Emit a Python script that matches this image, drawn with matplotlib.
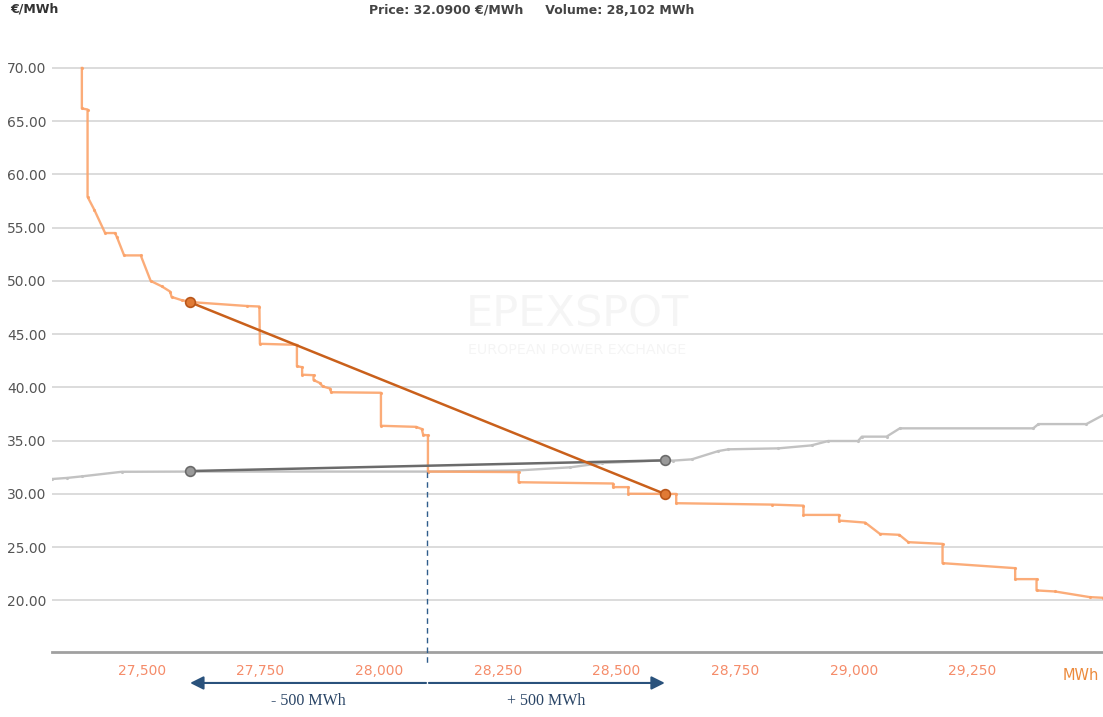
import matplotlib.pyplot as plt
import numpy as np

plt.rcParams['font.family'] = ['DejaVu Sans']

# demand curve (orange), MWh / EUR per MWh
dem_vol = [27374, 27374, 27386, 27386, 27400, 27423, 27444, 27448, 27463, 27498,
           27519, 27542, 27560, 27563, 27584, 27609, 27721, 27748, 27749, 27827,
           27827, 27838, 27838, 27862, 27862, 27876, 27881, 27897, 27899, 28004,
           28004, 28078, 28090, 28093, 28103, 28103, 28294, 28294, 28493, 28493,
           28525, 28525, 28626, 28626, 28827, 28894, 28894, 28969, 28969, 29024,
           29055, 29096, 29115, 29187, 29187, 29340, 29340, 29385, 29385, 29424,
           29497, 29525]
dem_price = [70.0, 66.2, 66.1, 57.9, 56.7, 54.5, 54.5, 54.1, 52.4, 52.4,
             50.0, 49.5, 49.0, 48.5, 48.2, 48.0, 47.65, 47.6, 44.1, 44.0,
             42.0, 41.9, 41.2, 41.15, 40.7, 40.4, 40.1, 39.9, 39.55, 39.5,
             36.4, 36.3, 36.1, 35.55, 35.5, 32.1, 32.05, 31.1, 30.98, 30.64,
             30.64, 30.02, 30.0, 29.13, 29.0, 28.9, 28.03, 28.03, 27.5, 27.31,
             26.25, 26.16, 25.47, 25.31, 23.5, 23.03, 22.0, 22.0, 20.94, 20.84,
             20.31, 20.25]

# supply curve (grey)
sup_vol = [27311, 27342, 27374, 27458, 27607, 28103, 28290, 28403, 28469, 28596,
           28620, 28659, 28715, 28736, 28841, 28911, 28946, 29009, 29017, 29069,
           29097, 29378, 29389, 29490, 29525]
sup_price = [31.4, 31.5, 31.65, 32.08, 32.1, 32.1, 32.2, 32.5, 32.9, 33.15,
             33.13, 33.25, 34.03, 34.19, 34.28, 34.56, 34.97, 34.97, 35.38, 35.38,
             36.16, 36.16, 36.56, 36.56, 37.4]

clear_price = 32.09
clear_vol = 28102
shift = 500
dem_shift_price = [48.0, 30.0]
sup_shift_price = [32.15, 33.15]

xticks = [27500, 27750, 28000, 28250, 28500, 28750, 29000, 29250]
yticks = [20, 25, 30, 35, 40, 45, 50, 55, 60, 65, 70]

fig = plt.figure(figsize=(11.03, 7.17), dpi=100)
ax = fig.add_axes([0.0471, 0.0907, 0.9529, 0.8442])
ymin, ymax = 15.16, 72.0
ax.set_xlim(27311, 29525)
ax.set_ylim(ymin, ymax)

for s in ['top', 'right', 'left']:
    ax.spines[s].set_visible(False)
ax.spines['bottom'].set_color('#a0a0a0')
ax.spines['bottom'].set_linewidth(2)

ax.set_yticks(yticks)
ax.set_yticklabels(['%.2f' % v for v in yticks], color='#555555', fontsize=10)
ax.set_xticks(xticks)
ax.set_xticklabels(['{:,}'.format(v) for v in xticks], color='#f58c6a', fontsize=10)
ax.tick_params(axis='both', length=0)
ax.tick_params(axis='x', pad=9)
ax.tick_params(axis='y', pad=4)
ax.yaxis.grid(True, color='#dcdcdc', lw=1.4)
ax.set_axisbelow(True)

# watermark
ax.text(0.4995, 0.557, 'EPEXSPOT', transform=ax.transAxes, fontsize=31, color='#f5f5f5',
        ha='center', va='center', zorder=0)
ax.text(0.4995, 0.499, 'EUROPEAN POWER EXCHANGE', transform=ax.transAxes, fontsize=10.3,
        color='#f5f5f5', ha='center', va='center', zorder=0)

ax.plot(sup_vol, sup_price, color='#c2c2c2', lw=1.7, marker='.', ms=2.5, zorder=2)
ax.plot(dem_vol, dem_price, color='#fba36a', lw=1.7, alpha=0.9, marker='.', ms=2.5, zorder=3)

x_shift = [clear_vol - shift, clear_vol + shift]
ax.plot(x_shift, sup_shift_price, color='#6b6b6b', lw=1.8, zorder=4,
        marker='o', ms=7, mfc='#9a9a9a', mec='#6b6b6b', mew=1.2)
ax.plot(x_shift, dem_shift_price, color='#c9601b', lw=1.8, zorder=5,
        marker='o', ms=7, mfc='#e07a35', mec='#b9561a', mew=1.2)

# clearing volume marker
y_low = ymin - 11 / 10.65
ax.plot([clear_vol, clear_vol], [clear_price, y_low], color='#2f5d8c', lw=1,
        ls=(0, (4, 3)), clip_on=False, zorder=4)

y_arr = ymin - 31 / 10.65
y_txt = ymin - 49 / 10.65
for x_end in x_shift:
    ax.annotate('', xy=(x_end, y_arr), xytext=(clear_vol + (3 if x_end > clear_vol else -3), y_arr),
                arrowprops=dict(arrowstyle='-|>', color='#2a527c', lw=1.5, mutation_scale=20,
                                shrinkA=0, shrinkB=0),
                annotation_clip=False)
ax.text((clear_vol + x_shift[0]) / 2, y_txt, '- 500 MWh', family='Liberation Serif',
        fontsize=11.5, color='#2a4566', ha='center', va='center', clip_on=False)
ax.text((clear_vol + x_shift[1]) / 2, y_txt, '+ 500 MWh', family='Liberation Serif',
        fontsize=11.5, color='#2a4566', ha='center', va='center', clip_on=False)

fig.text(1081 / 1103, 1 - 676 / 717, 'MWh', color='#ec8a3c', fontsize=10.5,
         ha='center', va='center')
fig.text(10 / 1103, 1 - 9 / 717, '€/MWh', color='#333333', fontsize=9,
         fontweight='bold', ha='left', va='center')
fig.text(532 / 1103, 1 - 10 / 717, 'Price: 32.0900 €/MWh     Volume: 28,102 MWh',
         color='#444444', fontsize=9, fontweight='bold', ha='center', va='center')

fig.savefig('out.png', dpi=100)
